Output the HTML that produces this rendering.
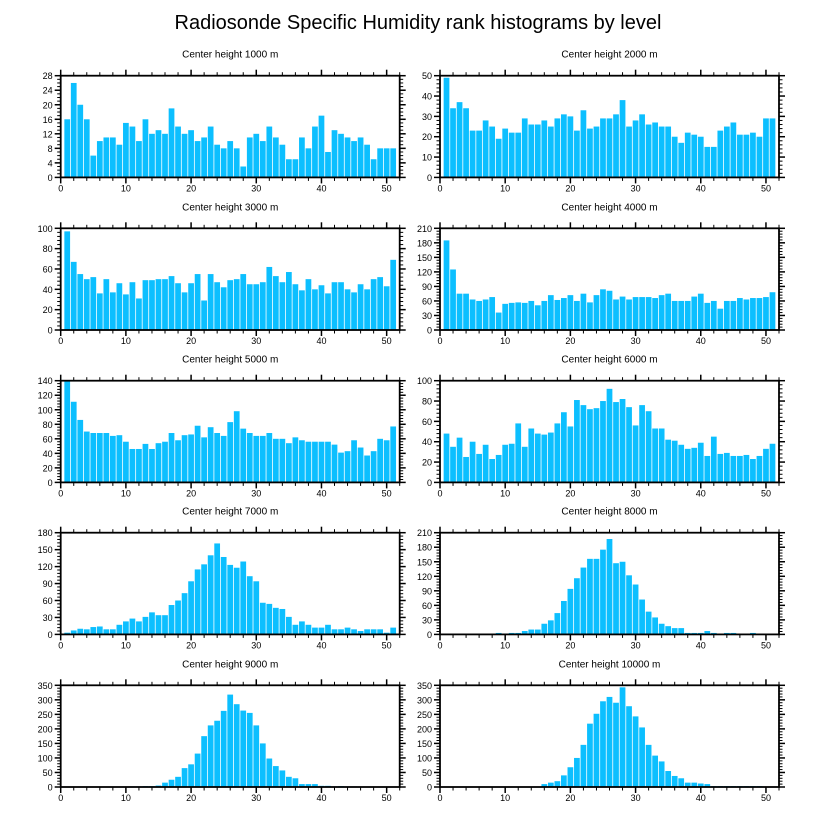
<!DOCTYPE html>
<html><head><meta charset="utf-8"><style>
body{margin:0;background:#fff;}
svg{display:block;font-family:"Liberation Sans",sans-serif;}
</style></head><body>
<svg id="chart" width="818" height="824">
<text x="418" y="29" text-anchor="middle" font-size="20">Radiosonde Specific Humidity rank histograms by level</text>
</svg>
<script>
const levels = ["1000","2000","3000","4000","5000","6000","7000","8000","9000","10000"];
const yMaxes = [28,50,100,210,140,100,180,210,350,350];
const yMajors = [4,10,20,30,20,20,30,30,50,50];
const v1000 = [16,26,20,16,6,10,11,11,9,15,14,10,16,12,13,12,19,14,12,13,10,11,14,9,8,10,8,3,11,12,10,14,11,9,5,5,11,8,14,17,7,13,12,11,10,11,9,5,8,8,8];
const v2000 = [49,34,37,34,23,23,28,25,19,24,22,22,29,26,26,28,25,29,31,30,23,33,24,25,29,29,31,38,25,28,31,26,27,25,25,20,17,22,21,20,15,15,23,25,27,21,21,22,20,29,29];
const v3000 = [97,67,55,50,52,36,50,37,46,35,47,31,49,49,50,50,53,46,37,46,55,29,55,47,42,49,50,55,45,45,47,62,53,47,57,45,39,50,40,44,36,47,47,40,37,45,40,50,52,43,69];
const v4000 = [185,125,75,75,63,60,63,68,36,54,56,57,56,60,51,60,72,62,66,72,60,75,57,72,84,81,63,69,63,68,68,68,66,72,75,60,60,60,69,75,56,60,44,60,60,66,63,66,66,68,78];
const v5000 = [140,111,86,70,68,68,68,64,65,56,46,46,53,46,54,56,68,58,65,66,78,62,76,68,64,83,98,74,68,64,64,68,60,60,54,62,58,56,56,56,56,52,41,43,58,48,37,43,60,58,77];
const v6000 = [48,35,44,25,40,28,37,23,27,37,38,58,35,53,48,47,49,58,69,55,81,76,72,73,80,92,79,82,74,56,76,70,53,53,42,41,37,33,34,39,26,45,28,29,26,26,27,23,26,33,38];
const v7000 = [3,7,10,9,13,14,9,9,17,23,28,23,31,39,34,34,52,60,73,94,115,124,140,161,137,123,118,129,103,94,56,54,47,45,31,17,23,17,12,12,17,9,9,12,9,6,9,9,9,3,12];
const v8000 = [0,0,0,0,0,0,0,1,3,1,3,3,7,10,10,22,29,44,69,94,116,138,156,156,175,197,147,150,122,103,72,47,35,22,17,13,13,3,3,3,7,3,1,3,3,1,1,3,0,0,0];
const v9000 = [1,1,1,1,1,1,1,1,1,1,2,2,3,3,5,15,25,35,65,78,115,175,212,228,262,318,285,263,255,212,150,98,72,57,35,30,10,10,10,4,4,2,3,2,2,1,1,1,0,0,0];
const v10000 = [0,0,0,0,0,0,0,0,0,0,0,0,0,0,0,10,15,20,40,68,100,145,218,252,295,310,290,343,278,243,205,145,108,88,55,38,30,15,15,12,10,3,3,3,3,3,3,3,3,0,0];
const series = [v1000,v2000,v3000,v4000,v5000,v6000,v7000,v8000,v9000,v10000];
const xTicks = [0,10,20,30,40,50];

const NS="http://www.w3.org/2000/svg";
const svg=document.getElementById('chart');
function mk(tag,attrs,parent){const e=document.createElementNS(NS,tag);for(const k in attrs)e.setAttribute(k,attrs[k]);(parent||svg).appendChild(e);return e;}
const colX=[60.7,440], W=339, H=101.7, rowY=[75.7,228.3,380.7,532.7,685.3], XMAX=52;

series.forEach((vals,i)=>{
  const px=colX[i%2], py=rowY[Math.floor(i/2)], ymax=yMaxes[i], maj=yMajors[i];
  const xs=v=>px+v/XMAX*W, ys=v=>py+H-v/ymax*H;
  const g=mk('g',{});
  
  
  const t=mk('text',{x:px+W/2,y:py-18,'text-anchor':'middle','font-size':10},g);
  t.textContent='Center height '+levels[i]+' m';
  
  
  vals.forEach((v,k)=>{
    const x=k+1;
    const r=mk('rect',{x:xs(x-0.44),y:ys(v),width:xs(0.88)-xs(0),height:ys(0)-ys(v),fill:'#0cbfff'},g);
    
    
  });
  // x ticks
  for(let v=0;v<=XMAX;v+=2){
    const major=v%10===0, L=major?6:3.5;
    mk('line',{x1:xs(v),x2:xs(v),y1:py+H,y2:py+H+L,stroke:'#000','stroke-width':major?1.5:1},g);
    mk('line',{x1:xs(v),x2:xs(v),y1:py,y2:py-L,stroke:'#000','stroke-width':major?1.5:1},g);
  }
  xTicks.forEach(v=>{
    const l=mk('text',{x:xs(v),y:py+H+14,'text-anchor':'middle','font-size':9},g);
    l.textContent=v;
    
    
  });
  // y ticks
  const minor=maj/(maj===4?4:5);
  for(let v=0;v<=ymax+1e-9;v+=minor){
    const isMaj=Math.abs(v/maj-Math.round(v/maj))<1e-6, L=isMaj?6:3.5;
    mk('line',{x1:px,x2:px-L,y1:ys(v),y2:ys(v),stroke:'#000','stroke-width':isMaj?1.5:1},g);
    mk('line',{x1:px+W,x2:px+W+L,y1:ys(v),y2:ys(v),stroke:'#000','stroke-width':isMaj?1.5:1},g);
  }
  for(let v=0;v<=ymax+1e-9;v+=maj){
    const l=mk('text',{x:px-8,y:ys(v)+3.5,'text-anchor':'end','font-size':9},g);
    l.textContent=v;
    
    
  }
  mk('rect',{x:px,y:py,width:W,height:H,fill:'none',stroke:'#000','stroke-width':1.8},g);
});
</script>
</body></html>
